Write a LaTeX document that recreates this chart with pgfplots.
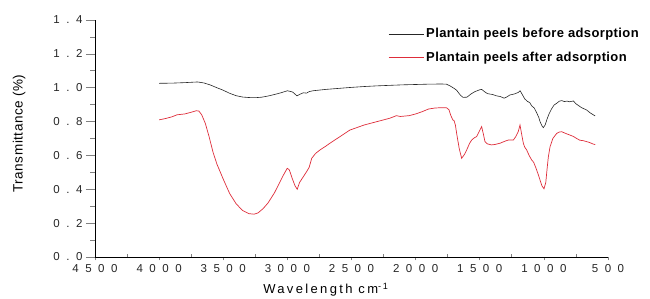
\documentclass[border=0pt]{standalone}
\usepackage{fontspec}
\setmainfont{Liberation Sans}
\newfontfamily\xlabfont[LetterSpace=18]{Liberation Sans}
\newfontfamily\ylabfont[LetterSpace=4]{Liberation Sans}
\newfontfamily\legfont[LetterSpace=3]{Liberation Sans}
\usepackage{pgfplots}
\pgfplotsset{compat=1.18}
\definecolor{myred}{RGB}{222,45,58}
\newcommand\g{\kern6.5pt}
\begin{document}
\begin{tikzpicture}
\path[use as bounding box] (-95pt,-42pt) rectangle (555pt,257pt);
\begin{axis}[
  scale only axis, width=513pt, height=237pt,
  xmin=500, xmax=4500, x dir=reverse, ymin=0, ymax=1.4,
  axis y line*=left, axis x line*=bottom,
  axis line style={line width=0.8pt},
  xtick={500,1000,1500,2000,2500,3000,3500,4000,4500},
  xticklabels={}, xtick style={draw=none},
  ytick={0,0.2,0.4,0.6,0.8,1.0,1.2,1.4},
  yticklabels={0\g.\g0,0\g.\g2,0\g.\g4,0\g.\g6,0\g.\g8,1\g.\g0,1\g.\g2,1\g.\g4},
  minor y tick num=1,
  tick align=outside, major tick length=9pt, minor tick length=4.5pt,
  ytick style={line width=0.7pt},
  tick label style={font=\fontsize{11.5}{13}\selectfont, text=black!85},
  ylabel={Transmittance (\%)},
  ylabel style={font=\ylabfont\fontsize{13.5}{15}\selectfont, at={(axis description cs:-0.148,0.521)}, anchor=center},
  legend style={at={(rel axis cs:0.566,0.982)}, anchor=north west, draw=none, fill=none,
    font=\legfont\bfseries\fontsize{13}{15}\selectfont, row sep=9pt},
  legend cell align=left,
  legend image code/.code={\path (0pt,0pt) -- (35pt,0pt); \draw[#1] (0pt,0pt) -- (25pt,0pt);},
]
\addplot[black!85, line width=0.6pt] coordinates {
(4000,1.026)(3900,1.027)(3800,1.030)(3700,1.034)(3650,1.028)(3600,1.016)(3550,1.000)(3500,0.985)
(3450,0.967)(3400,0.953)(3350,0.945)(3300,0.942)(3250,0.941)(3200,0.944)(3150,0.951)(3100,0.960)
(3050,0.970)(3000,0.982)(2960,0.975)(2925,0.952)(2900,0.962)(2875,0.970)(2850,0.968)(2830,0.977)
(2800,0.982)(2700,0.990)(2600,0.996)(2500,1.002)(2400,1.007)(2300,1.011)(2200,1.014)(2100,1.017)
(2000,1.019)(1900,1.021)(1800,1.022)(1760,1.021)(1730,1.010)(1700,0.996)(1680,0.985)(1650,0.955)
(1630,0.943)(1600,0.944)(1570,0.962)(1540,0.976)(1500,0.988)(1485,0.990)(1460,0.975)(1440,0.965)
(1400,0.960)(1370,0.952)(1340,0.948)(1310,0.938)(1290,0.945)(1265,0.957)(1230,0.963)(1200,0.972)
(1185,0.982)(1170,0.962)(1150,0.935)(1130,0.920)(1110,0.912)(1095,0.893)(1075,0.880)(1056,0.852)
(1040,0.825)(1030,0.800)(1015,0.775)(1004,0.764)(990,0.780)(975,0.815)(960,0.845)(940,0.875)
(920,0.898)(900,0.908)(880,0.920)(860,0.924)(840,0.918)(820,0.921)(800,0.917)(780,0.920)
(770,0.922)(750,0.905)(730,0.895)(718,0.888)(700,0.880)(666,0.868)(640,0.852)(600,0.833)
};
\addlegendentry{Plantain peels before adsorption}
\addplot[myred, line width=0.7pt] coordinates {
(4000,0.810)(3950,0.818)(3900,0.828)(3860,0.840)(3800,0.845)(3750,0.855)(3710,0.864)(3690,0.862)
(3668,0.840)(3640,0.790)(3610,0.710)(3580,0.620)(3550,0.550)(3500,0.460)(3450,0.375)(3400,0.315)
(3350,0.275)(3300,0.256)(3260,0.253)(3230,0.260)(3190,0.285)(3150,0.320)(3100,0.380)(3060,0.440)
(3030,0.485)(3001,0.524)(2985,0.515)(2960,0.460)(2940,0.420)(2923,0.400)(2905,0.440)(2876,0.474)
(2850,0.504)(2830,0.530)(2810,0.583)(2780,0.612)(2746,0.632)(2700,0.655)(2668,0.672)(2590,0.711)
(2512,0.750)(2400,0.780)(2300,0.800)(2200,0.820)(2150,0.835)(2120,0.830)(2050,0.835)(2000,0.845)
(1950,0.858)(1900,0.874)(1850,0.880)(1800,0.882)(1760,0.882)(1740,0.870)(1725,0.835)(1710,0.810)
(1700,0.805)(1690,0.780)(1680,0.730)(1660,0.640)(1641,0.583)(1620,0.605)(1602,0.632)(1580,0.670)
(1563,0.691)(1540,0.705)(1524,0.711)(1505,0.740)(1485,0.770)(1470,0.720)(1459,0.681)(1440,0.668)
(1407,0.662)(1380,0.665)(1342,0.672)(1300,0.685)(1277,0.691)(1238,0.691)(1220,0.710)(1200,0.740)
(1186,0.780)(1172,0.720)(1160,0.672)(1150,0.650)(1134,0.632)(1115,0.600)(1095,0.573)(1080,0.560)
(1061,0.524)(1045,0.490)(1030,0.455)(1015,0.420)(999,0.403)(985,0.440)(975,0.520)(965,0.592)
(952,0.651)(930,0.700)(900,0.730)(880,0.738)(861,0.740)(830,0.730)(796,0.720)(770,0.712)
(744,0.700)(720,0.690)(692,0.687)(650,0.678)(614,0.667)(600,0.664)
};
\addlegendentry{Plantain peels after adsorption}
\end{axis}
\begin{axis}[
  scale only axis, width=513pt, height=237pt,
  xmin=500, xmax=4500, x dir=reverse, ymin=0, ymax=1.4,
  axis x line*=bottom, axis y line=none,
  axis line style={line width=0.8pt},
  xtick={500,1000,1500,2000,2500,3000,3500,4000,4500},
  xticklabels={5\g0\g0,1\g0\g0\g0,1\g5\g0\g0,2\g0\g0\g0,2\g5\g0\g0,3\g0\g0\g0,3\g5\g0\g0,4\g0\g0\g0,4\g5\g0\g0},
  tick align=outside, major tick length=3.5pt,
  xtick style={line width=0.7pt},
  tick label style={font=\fontsize{11.5}{13}\selectfont, text=black!85},
  xlabel={Wavelength cm\textsuperscript{-1}},
  xlabel style={font=\xlabfont\fontsize{13}{15}\selectfont, at={(ticklabel cs:0.45)}, yshift=-4pt},
]
\end{axis}
\begin{axis}[
  scale only axis, width=513pt, height=237pt,
  xmin=500, xmax=4500, x dir=reverse, ymin=0, ymax=1.4,
  axis x line*=bottom, axis y line=none,
  axis line style={line width=0.8pt},
  xtick={750,1250,1750,2250,2750,3250,3750,4250},
  xticklabels={},
  tick align=inside, major tick length=3pt,
  xtick style={line width=0.7pt},
]
\end{axis}
\end{tikzpicture}
\end{document}
